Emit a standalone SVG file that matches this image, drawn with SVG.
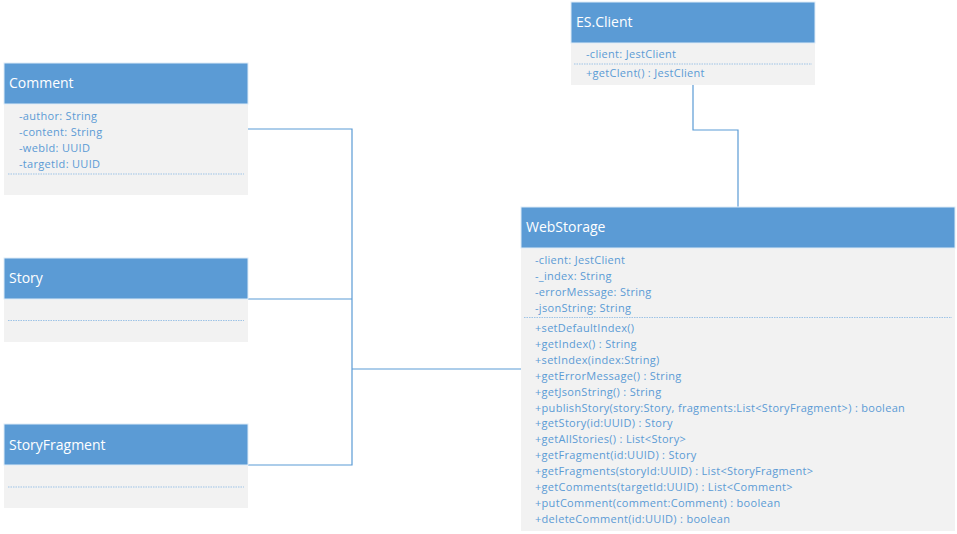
<svg xmlns="http://www.w3.org/2000/svg" width="957" height="534" viewBox="0 0 957 534">
<style>
.hd{fill:#5B9BD5;stroke:#DEEBF7;stroke-width:1}
.bd{fill:#F2F2F2}
.ht{font-family:"Open Sans","Noto Sans",sans-serif;font-size:14px;fill:#FFFFFF}
.t{font-family:"Open Sans","Noto Sans",sans-serif;font-size:11px;letter-spacing:0.3px;fill:#5B9BD5}
.dl{stroke:#9DC3E6;stroke-width:1;stroke-dasharray:1.5 1}
.c{fill:none;stroke:#5B9BD5;stroke-width:1.2}
</style>
<rect width="957" height="534" fill="#FFFFFF"/>
<g id="connectors">
<polyline class="c" points="248,129 352,129 352,465 248,465"/>
<line class="c" x1="248" y1="299" x2="352" y2="299"/>
<line class="c" x1="352" y1="369" x2="521" y2="369"/>
<polyline class="c" points="693,85 693,130 738,130 738,207"/>
</g>
<g id="Comment">
<rect class="bd" x="4" y="104" width="244" height="91"/>
<rect class="hd" x="4" y="63" width="244" height="41"/>
<text class="ht" x="9" y="88">Comment</text>
<text class="t" x="19" y="120">-author: String</text>
<text class="t" x="19" y="136">-content: String</text>
<text class="t" x="19" y="152">-webId: UUID</text>
<text class="t" x="19" y="168">-targetId: UUID</text>
<line class="dl" x1="8" y1="174" x2="244" y2="174"/>
</g>
<g id="Story">
<rect class="bd" x="4" y="299" width="244" height="43"/>
<rect class="hd" x="4" y="258" width="244" height="41"/>
<text class="ht" x="9" y="283">Story</text>
<line class="dl" x1="8" y1="320.5" x2="244" y2="320.5"/>
</g>
<g id="StoryFragment">
<rect class="bd" x="4" y="465" width="244" height="43"/>
<rect class="hd" x="4" y="424" width="244" height="41"/>
<text class="ht" x="9" y="450">StoryFragment</text>
<line class="dl" x1="8" y1="487" x2="244" y2="487"/>
</g>
<g id="ESClient">
<rect class="bd" x="571" y="43" width="244" height="42"/>
<rect class="hd" x="571" y="2" width="244" height="41"/>
<text class="ht" x="576" y="27">ES.Client</text>
<text class="t" x="586" y="58">-client: JestClient</text>
<line class="dl" x1="574" y1="64" x2="812" y2="64"/>
<text class="t" x="586" y="77">+getClent() : JestClient</text>
</g>
<g id="WebStorage">
<rect class="bd" x="521" y="248" width="434" height="283"/>
<rect class="hd" x="521" y="207" width="434" height="41"/>
<text class="ht" x="526" y="232">WebStorage</text>
<text class="t" x="535" y="264">-client: JestClient</text>
<text class="t" x="535" y="280">-_index: String</text>
<text class="t" x="535" y="296">-errorMessage: String</text>
<text class="t" x="535" y="312">-jsonString: String</text>
<line class="dl" x1="524" y1="317.5" x2="952" y2="317.5"/>
<text class="t" x="535" y="332">+setDefaultIndex()</text>
<text class="t" x="535" y="348">+getIndex() : String</text>
<text class="t" x="535" y="364">+setIndex(index:String)</text>
<text class="t" x="535" y="380">+getErrorMessage() : String</text>
<text class="t" x="535" y="396">+getJsonString() : String</text>
<text class="t" x="535" y="412">+publishStory(story:Story, fragments:List&lt;StoryFragment&gt;) : boolean</text>
<text class="t" x="535" y="427">+getStory(id:UUID) : Story</text>
<text class="t" x="535" y="443">+getAllStories() : List&lt;Story&gt;</text>
<text class="t" x="535" y="459">+getFragment(id:UUID) : Story</text>
<text class="t" x="535" y="475">+getFragments(storyId:UUID) : List&lt;StoryFragment&gt;</text>
<text class="t" x="535" y="491">+getComments(targetId:UUID) : List&lt;Comment&gt;</text>
<text class="t" x="535" y="507">+putComment(comment:Comment) : boolean</text>
<text class="t" x="535" y="523">+deleteComment(id:UUID) : boolean</text>
</g>
</svg>
